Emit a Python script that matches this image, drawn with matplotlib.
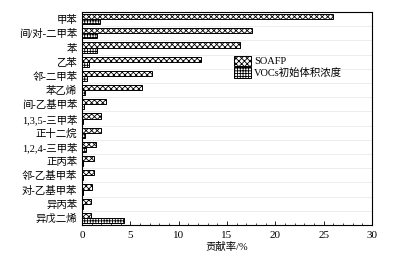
import numpy as np
import matplotlib.pyplot as plt
from matplotlib.ticker import MultipleLocator

plt.rcParams['font.family'] = ['Liberation Serif', 'Noto Sans CJK SC']
plt.rcParams['hatch.linewidth'] = 0.6

species = ['甲苯', '间/对-二甲苯', '苯', '乙苯', '邻-二甲苯', '苯乙烯', '间-乙基甲苯',
           '1,3,5-三甲苯', '正十二烷', '1,2,4-三甲苯', '正丙苯', '邻-乙基甲苯',
           '对-乙基甲苯', '异丙苯', '异戊二烯']
soafp = [26.0, 17.6, 16.3, 12.3, 7.2, 6.2, 2.5, 2.0, 2.0, 1.4, 1.25, 1.2, 1.0, 0.95, 0.9]
vocs = [1.9, 1.6, 1.6, 0.75, 0.55, 0.3, 0.2, 0.15, 0.3, 0.4, 0.15, 0.15, 0.1, 0.1, 4.3]

fig = plt.figure(figsize=(3.95, 2.63), dpi=100)
ax = fig.add_axes([0.2076, 0.1445, 0.7342, 0.8095])

y = np.arange(len(species))
h = 0.36
ax.barh(y - h / 2, soafp, height=h, color='white', edgecolor='black', linewidth=0.7,
        hatch='xxxxxx', label='SOAFP')
ax.barh(y + h / 2, vocs, height=h, color='white', edgecolor='black', linewidth=0.7,
        hatch='++++++', label='VOCs初始体积浓度')

ax.set_ylim(len(species) - 0.5, -0.5)
ax.set_xlim(0, 30)
ax.set_yticks(y)
ax.set_yticklabels(species, fontsize=7.5)
ax.xaxis.set_major_locator(MultipleLocator(5))
ax.xaxis.set_minor_locator(MultipleLocator(1))
ax.tick_params(axis='x', which='both', direction='in', labelsize=8, pad=4)
ax.tick_params(axis='x', which='major', length=3, width=0.6)
ax.tick_params(axis='x', which='minor', length=1.5, width=0.5)
ax.tick_params(axis='y', length=0)
for b in np.arange(0.5, len(species) - 0.5):
    ax.axhline(b, color='#e6e6e6', linewidth=0.5, zorder=0)
for s in ax.spines.values():
    s.set_linewidth(0.8)
ax.set_xlabel('贡献率/%', fontsize=7.5, labelpad=2)

ax.legend(loc='upper left', bbox_to_anchor=(0.5, 0.83), frameon=False, fontsize=7.5,
          handlelength=1.6, handleheight=1.2, handletextpad=0.3, labelspacing=0.1,
          borderpad=0.2)

fig.savefig('out.png', dpi=100)
